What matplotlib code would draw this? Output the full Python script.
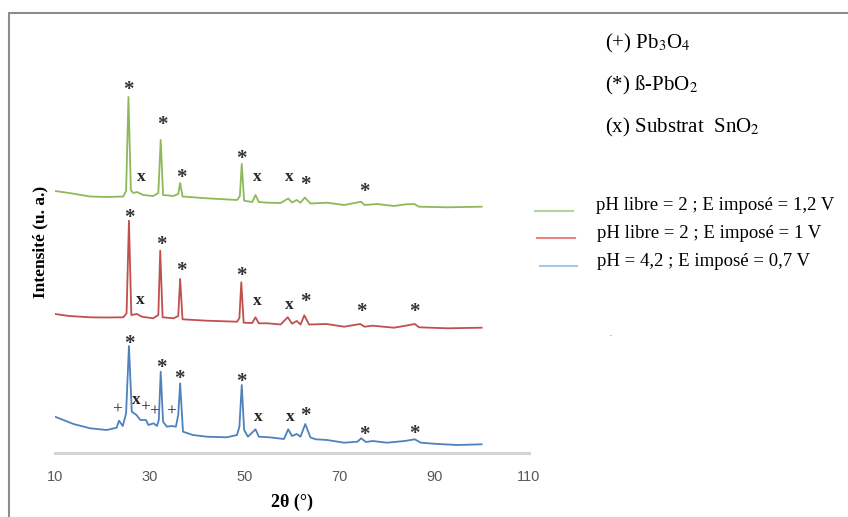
import matplotlib.pyplot as plt
from matplotlib.patches import Rectangle
from matplotlib.lines import Line2D

plt.rcParams['mathtext.fontset'] = 'stix'

# 2theta (deg) and intensity (u. a.); curves are already offset
theta_green = [10, 13, 17.4, 21, 24.4, 25.0, 25.5, 26.0, 26.5, 27.3, 28.6, 30.7, 31.8, 32.3, 32.8,
               35, 36.0, 36.4, 36.9, 42, 48.4, 49.0, 49.4, 49.9, 51.6, 52.3, 53.0, 54.8, 57.6,
               59.2, 60.0, 61.0, 61.8, 62.7, 63.9, 67.4, 71, 74.6, 75.3, 78, 81.5, 84, 85.8,
               86.8, 92.8, 100]
int_green = [262, 260, 256.5, 256, 256.5, 262, 356, 263, 260, 261, 258, 257, 260, 313, 258,
             257, 259, 270, 256.5, 254.7, 253, 257, 289, 252.3, 251, 258, 251, 250.3, 250,
             254.5, 250.5, 253, 250.3, 255.5, 249.5, 250.3, 248, 251.3, 248, 249, 247, 248.7, 249,
             246.3, 245.7, 246.3]

theta_red = [10, 13, 17.4, 21, 24.4, 25.1, 25.6, 26.1, 27.3, 28.3, 30.7, 31.8, 32.2, 32.7,
             35, 36.0, 36.4, 36.9, 42, 48.4, 48.9, 49.3, 49.8, 51.6, 52.3, 53.0, 54.8, 57.6,
             59.1, 60.0, 61.0, 61.8, 62.6, 63.6, 67.3, 71, 74.4, 75.3, 77, 81.5, 84, 85.9,
             86.8, 92.8, 100]
int_red = [139, 137, 135.7, 135.5, 135.7, 139.7, 232.3, 138, 139, 136.3, 134.7, 138, 202.3, 135.7,
           134.7, 137, 174, 133.7, 132.3, 131.3, 135, 170.7, 130.3, 130, 135.7, 129.7, 129.7, 128.5,
           135.8, 129.3, 132, 128.5, 137.7, 128.5, 129, 126.3, 129, 126.3, 127.3, 125.3, 127.3, 129,
           125.7, 124.7, 125.3]

theta_blue = [10, 13.9, 17.4, 20.9, 23.0, 23.5, 24.3, 25.0, 25.6, 26.2, 27.2, 28.0, 29.2, 29.7,
              30.8, 31.5, 31.9, 32.3, 32.8, 33.6, 34.6, 35.5, 36.0, 36.4, 37.0, 39.1, 42, 46.2,
              48.4, 48.9, 49.4, 49.9, 50.7, 52.3, 53.0, 55.2, 58.3, 59.2, 60.0, 61.0, 61.8, 62.8,
              63.9, 65.0, 67.4, 71, 73.8, 74.6, 75.6, 77, 80, 83.8, 85.9, 87.2, 90.7, 95, 100]
int_blue = [36.3, 29, 24.7, 23, 25.3, 32.3, 27, 39.7, 107, 41.3, 38, 33, 33, 28,
            29.7, 27, 33, 81.3, 31.3, 26.3, 27, 26.3, 38, 69.7, 21.3, 18, 16.3, 15.7,
            18, 26.3, 68, 23, 16.3, 23.7, 16.3, 15.7, 14, 23.7, 17, 19, 16.3, 29,
            15.5, 13.7, 13, 10.3, 11.3, 14.7, 11, 12, 10.3, 12, 13.7, 10.3, 9, 8, 8.7]

labels = ['pH libre = 2 ; E imposé = 1,2 V',
          'pH libre = 2 ; E imposé = 1 V',
          'pH = 4,2 ; E imposé = 0,7 V']
phases = [r'(+) Pb$_\mathrm{3}$O$_\mathrm{4}$',
          r'(*) ß-PbO$_\mathrm{2}$',
          r'(x) Substrat  SnO$_\mathrm{2}$']

# peak marks: (2theta, intensity, symbol)
marks = [(25.55, 368, '*'), (32.57, 333, '*'), (28.14, 276, 'x'), (36.58, 279.7, '*'),
         (49.39, 299, '*'), (52.76, 276.3, 'x'), (59.43, 276.3, 'x'), (62.89, 273, '*'),
         (75.19, 265.7, '*'),
         (25.68, 239.7, '*'), (32.36, 213, '*'), (36.73, 187, '*'), (49.39, 182.3, '*'),
         (27.93, 153, 'x'), (52.76, 152.3, 'x'), (59.43, 148, 'x'), (62.89, 156.3, '*'),
         (74.7, 145.7, '*'), (85.74, 145.7, '*'),
         (25.68, 113.7, '*'), (32.36, 89.7, '*'), (36.22, 79, '*'), (49.3, 75.7, '*'),
         (23.14, 43.7, '+'), (27.24, 53, 'x'), (28.99, 45.7, '+'), (30.95, 41.3, '+'),
         (34.47, 41.3, '+'), (52.89, 36.3, 'x'), (59.58, 35.7, 'x'), (62.74, 42.3, '*'),
         (75.19, 23, '*'), (85.74, 23.7, '*')]

colors = ['#8db95a', '#c0504d', '#4f81bd']
legend_colors = ['#b3d598', '#e58583', '#a7c7ea']

fig = plt.figure(figsize=(8.48, 5.17), dpi=100)
W, H = 848, 517

# outer chart frame
fig.add_artist(Rectangle((9 / W, -0.1), 1.2, (517 - 13) / 517 + 0.1, transform=fig.transFigure,
                         fill=False, edgecolor='#8c8c8c', linewidth=1.5))

ax = fig.add_axes([55 / W, (517 - 453) / 517, 474 / W, 433 / 517])
ax.plot(theta_green, int_green, color=colors[0], lw=1.3)
ax.plot(theta_red, int_red, color=colors[1], lw=1.3)
ax.plot(theta_blue, int_blue, color=colors[2], lw=1.3)

for t, y, s in marks:
    if s == '*':
        ax.text(t, y - 5, s, ha='center', va='center', fontsize=15, fontweight='bold',
                family='Liberation Serif', color='#333333')
    else:
        ax.text(t, y, s, ha='center', va='center', fontsize=12.5,
                fontweight='bold' if s == 'x' else 'normal',
                family='Liberation Serif', color='#262626')

ax.set_xlim(10, 110)
ax.set_ylim(0, 433)
ax.set_xticks([10, 30, 50, 70, 90, 110])
ax.set_yticks([])
for side in ['top', 'right', 'left']:
    ax.spines[side].set_visible(False)
ax.spines['bottom'].set_color('#d4d4d4')
ax.spines['bottom'].set_linewidth(2.2)
ax.tick_params(axis='x', length=0, pad=12, labelsize=10.5, labelcolor='#595959')
for lab in ax.get_xticklabels():
    lab.set_family('Liberation Sans')
ax.set_xlabel('2θ (°)', family='Liberation Serif', fontweight='bold', fontsize=13, labelpad=7)
fig.text(40 / W, 1 - 242 / H, 'Intensité (u. a.)', rotation=90, ha='center', va='center',
         family='Liberation Serif', fontweight='bold', fontsize=12.5)

# phase key
for i, p in enumerate(phases):
    fig.text(605 / W, 1 - (43 + 42 * i) / H, p, ha='left', va='center',
             family='Liberation Serif', fontsize=15)

# series key
line_x = [(535, 573), (537, 575), (540, 577)]
text_x = [596, 597, 597]
key_y = [206, 233, 261]
for i, lab in enumerate(labels):
    y = 1 - (key_y[i] + 5) / H
    fig.add_artist(Line2D([line_x[i][0] / W, line_x[i][1] / W], [y, y],
                          transform=fig.transFigure, color=legend_colors[i], lw=1.5))
    fig.text(text_x[i] / W, 1 - key_y[i] / H, lab, ha='left', va='center',
             family='Liberation Serif', fontsize=13.5)
fig.text(611 / W, 1 - 333 / H, '.', ha='center', va='center', fontsize=8, color='#888888')

fig.savefig('out.png', dpi=100)
